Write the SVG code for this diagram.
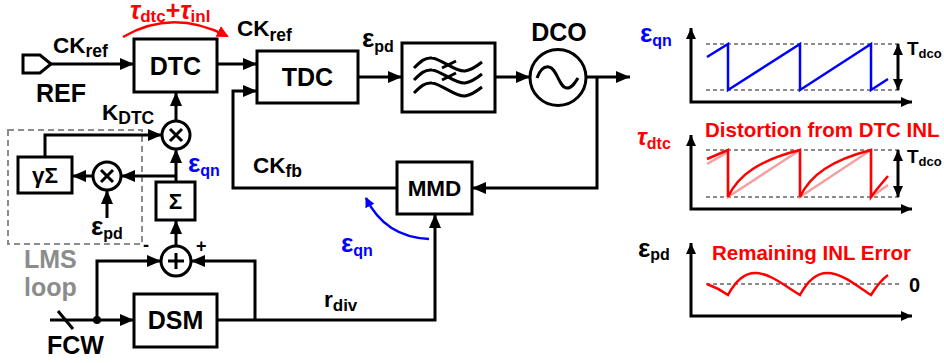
<svg xmlns="http://www.w3.org/2000/svg" width="944" height="363" viewBox="0 0 944 363">
<style>
text{font-family:"Liberation Sans",Arial,sans-serif;font-weight:bold;fill:#000}
.box{fill:#fff;stroke:#000;stroke-width:3}
.ln{fill:none;stroke:#000;stroke-width:3}
.big{font-size:25px}
.lab{font-size:22.5px}
.sub{font-size:17.5px}
.eps{font-size:26px}
.red{fill:#ff0000}
.blue{fill:#0000ff}
.gray{fill:#8c8c8c}
.dash{fill:none;stroke:#8c8c8c;stroke-width:2;stroke-dasharray:4 3}
.ax{fill:none;stroke:#000;stroke-width:3}
</style>
<defs>
<marker id="ah" markerUnits="userSpaceOnUse" markerWidth="14" markerHeight="12" refX="14" refY="6" orient="auto-start-reverse"><path d="M0,0 L14,6 L0,12 z" fill="#000"/></marker>
<marker id="as" markerUnits="userSpaceOnUse" markerWidth="11" markerHeight="10" refX="11" refY="5" orient="auto-start-reverse"><path d="M0,0 L11,5 L0,10 z" fill="#000"/></marker>
<marker id="ar" markerUnits="userSpaceOnUse" markerWidth="12" markerHeight="12" refX="10" refY="6" orient="auto"><path d="M0,0 L12,6 L0,12 z" fill="#ff0000"/></marker>
<marker id="ab" markerUnits="userSpaceOnUse" markerWidth="10" markerHeight="10" refX="9" refY="5" orient="auto"><path d="M0,0 L10,5 L0,10 z" fill="#0000ff"/></marker>
</defs>
<rect width="944" height="363" fill="#fff"/>

<g id="lms">
<rect x="8" y="130" width="134" height="114" fill="none" stroke="#8c8c8c" stroke-width="2" stroke-dasharray="6 4"/>
<text class="gray" x="24" y="268" font-size="25">LMS</text>
<text class="gray" x="24" y="296" font-size="25">loop</text>
</g>

<g id="connectors">
<path class="ln" d="M51,64 H134" marker-end="url(#ah)"/>
<path class="ln" d="M217,64 H257" marker-end="url(#ah)"/>
<path class="ln" d="M358,77 H402" marker-end="url(#ah)"/>
<path class="ln" d="M495,77 H530" marker-end="url(#ah)"/>
<path class="ln" d="M586,77 H630" marker-end="url(#ah)"/>
<path class="ln" d="M597,77 V188 H472" marker-end="url(#ah)"/>
<path class="ln" d="M397,188 H233 V91 H257" marker-end="url(#ah)"/>
<path class="ln" d="M217,320 H435 V214" marker-end="url(#ah)"/>
<path class="ln" d="M255,320 V261 H191" marker-end="url(#ah)"/>
<path class="ln" d="M50,320 H134" marker-end="url(#ah)"/>
<path class="ln" d="M58,311 L73,329"/>
<circle cx="97" cy="320" r="4" fill="#000"/>
<path class="ln" d="M97,320 V261 H161" marker-end="url(#ah)"/>
<path class="ln" d="M176,246 V220" marker-end="url(#ah)"/>
<path class="ln" d="M176,182 V149" marker-end="url(#ah)"/>
<path class="ln" d="M176,176 H121" marker-end="url(#ah)"/>
<path class="ln" d="M93,176 H72" marker-end="url(#ah)"/>
<path class="ln" d="M45,157 V135 H162" marker-end="url(#ah)"/>
<path class="ln" d="M176,121 V92" marker-end="url(#ah)"/>
<path class="ln" d="M107,218 V190" marker-end="url(#ah)"/>
<path d="M123,37 Q172,8 227,36" fill="none" stroke="#ff0000" stroke-width="2.5" marker-end="url(#ar)"/>
<path d="M429,239 Q385,237 366,198" fill="none" stroke="#0000ff" stroke-width="2.5" marker-end="url(#ab)"/>
</g>

<g id="ref">
<polygon class="box" points="23,55 40,55 51,64 40,73 23,73"/>
<text class="big" x="36" y="102">REF</text>
<text class="lab" x="53" y="53">CK<tspan class="sub" dy="4">ref</tspan></text>
</g>
<g id="dtc">
<rect class="box" x="134" y="39" width="83" height="53"/>
<text class="big" x="175.5" y="74.5" text-anchor="middle">DTC</text>
</g>
<text class="red" x="130" y="19" font-size="25" font-style="italic">τ<tspan font-size="17" font-style="normal" dy="3">dtc</tspan><tspan dy="-3" font-style="normal">+</tspan>τ<tspan font-size="17" font-style="normal" dy="3">inl</tspan></text>
<text class="lab" x="237" y="36">CK<tspan class="sub" dy="5">ref</tspan></text>
<g id="tdc">
<rect class="box" x="257" y="51" width="101" height="52"/>
<text class="big" x="307.5" y="86" text-anchor="middle">TDC</text>
</g>
<text class="eps" x="362" y="47">ε<tspan font-size="16" dy="5">pd</tspan></text>
<g id="filter">
<rect class="box" x="402" y="43" width="93" height="69"/>
<path class="ln" stroke-width="2.5" d="M414,68 C420,62 425,57 432,58 C442,59 455,72 465,71 C472,70 477,66 482,62"/>
<path class="ln" stroke-width="2.5" d="M414,80 C420,74 425,69 432,70 C442,71 455,84 465,83 C472,82 477,78 482,74"/>
<path class="ln" stroke-width="2.5" d="M414,93 C420,87 425,82 432,83 C442,84 455,97 465,96 C472,95 477,91 482,87"/>
<path class="ln" stroke-width="2.5" d="M442,68 L456,61 M442,80 L456,73"/>
</g>
<g id="dco">
<circle class="box" cx="558" cy="77.5" r="28"/>
<path class="ln" stroke-width="2.5" d="M537,78 C540,70 544,66 549,67 C557,68 559,88 567,88 C572,88 575,83 578,78"/>
<text class="big" x="559" y="41" text-anchor="middle">DCO</text>
</g>
<g id="mmd">
<rect class="box" x="397" y="162" width="75" height="52"/>
<text class="lab" x="434.5" y="196" text-anchor="middle">MMD</text>
</g>
<text class="lab" x="253" y="173">CK<tspan class="sub" dy="4">fb</tspan></text>
<text class="eps blue" x="341" y="252">ε<tspan font-size="16" dy="4">qn</tspan></text>
<g id="dsm">
<rect class="box" x="134" y="294" width="83" height="53"/>
<text class="big" x="175.5" y="329" text-anchor="middle">DSM</text>
</g>
<text class="big" x="47" y="354">FCW</text>
<text class="lab" x="324" y="307">r<tspan font-size="17" dy="4">div</tspan></text>
<g id="sigma">
<rect class="box" x="156" y="182" width="39" height="38"/>
<text class="lab" x="175.5" y="209" text-anchor="middle">Σ</text>
</g>
<g id="gsigma">
<rect class="box" x="18" y="157" width="54" height="36"/>
<text class="lab" x="45" y="183" text-anchor="middle" font-size="23">γΣ</text>
</g>
<g id="multTop">
<circle class="box" cx="176" cy="135" r="14"/>
<path class="ln" d="M170,129 L182,141 M182,129 L170,141" stroke-width="2.5"/>
</g>
<text class="lab" x="102" y="120">K<tspan font-size="17.5" dy="4">DTC</tspan></text>
<text class="eps blue" x="188" y="172">ε<tspan font-size="16" dy="4">qn</tspan></text>
<g id="multLeft">
<circle class="box" cx="107" cy="176" r="14"/>
<path class="ln" d="M101,170 L113,182 M113,170 L101,182" stroke-width="2.5"/>
</g>
<text class="eps" x="91" y="235">ε<tspan font-size="16" dy="4">pd</tspan></text>
<g id="sum">
<circle class="box" cx="176" cy="261" r="15"/>
<path class="ln" d="M168,261 H184 M176,253 V269" stroke-width="2.5"/>
</g>
<text x="143" y="251" font-size="18">-</text>
<text x="196" y="251.5" font-size="18">+</text>

<g id="plot1">
<path class="dash" d="M706,44 H902 M706,90 H902"/>
<path class="ax" d="M691,28 V102 H912" marker-start="url(#as)" marker-end="url(#as)"/>
<polyline points="707,57 728,44 728,90 800,44 800,90 871,44 871,90 888,79" fill="none" stroke="#0000ff" stroke-width="2.5"/>
<path class="ln" stroke-width="2.5" d="M898,44 V90" marker-start="url(#as)" marker-end="url(#as)"/>
<text class="eps blue" x="640" y="42">ε<tspan font-size="16" dy="4">qn</tspan></text>
<text x="907" y="55" font-size="19">T<tspan font-size="13" dy="3">dco</tspan></text>
</g>
<g id="plot2">
<path class="dash" d="M706,150 H902 M706,197 H902"/>
<path class="ax" d="M691,135 V209 H912" marker-start="url(#as)" marker-end="url(#as)"/>
<polyline points="707,164 728,152 728,197 800,150 800,197 871,150 871,197 888,185" fill="none" stroke="#f4a0a0" stroke-width="2.5"/>
<path d="M707,159 L728,150 L728,197 C738,175 760,160 800,150 L800,197 C810,175 832,160 871,150 L871,197 C876,190 882,183 888,176" fill="none" stroke="#ff0000" stroke-width="2.5"/>
<path class="ln" stroke-width="2.5" d="M898,150 V197" marker-start="url(#as)" marker-end="url(#as)"/>
<text class="red" x="637" y="145" font-size="24" font-style="italic">τ<tspan font-size="16" font-style="normal" dy="4">dtc</tspan></text>
<text class="red" x="705" y="137" font-size="20.5">Distortion from DTC INL</text>
<text x="907" y="163" font-size="19">T<tspan font-size="13" dy="3">dco</tspan></text>
</g>
<g id="plot3">
<path class="dash" d="M706,284 H902"/>
<path class="ax" d="M691,243 V316 H912" marker-start="url(#as)" marker-end="url(#as)"/>
<path d="M707,284 Q718,288 728,295 C735,282 743,273 755,273 C770,273 785,286 800,295 C807,282 815,273 827,273 C842,273 857,286 871,295 C876,287 881,280 888,275" fill="none" stroke="#ff0000" stroke-width="2.5"/>
<text class="eps" x="638" y="257">ε<tspan font-size="16" dy="3">pd</tspan></text>
<text class="red" x="712" y="260" font-size="20.5">Remaining INL Error</text>
<text x="909" y="292" font-size="20">0</text>
</g>
</svg>
